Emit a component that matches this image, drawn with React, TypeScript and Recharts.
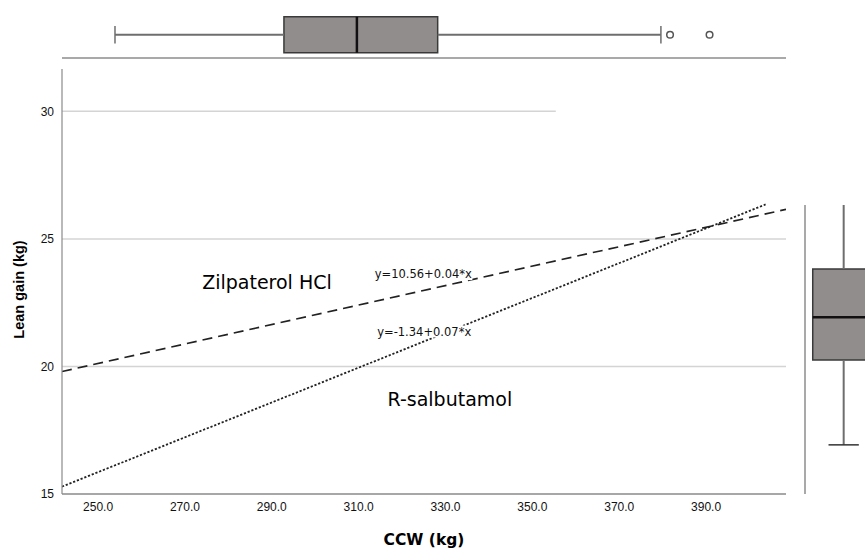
import React from 'react'
import {
    ComposedChart,
    Line,
    Scatter,
    XAxis,
    YAxis,
    ReferenceLine,
    ReferenceArea,
    ReferenceDot,
} from 'recharts'

// axes
const xTicks = [250, 270, 290, 310, 330, 350, 370, 390]
const yTicks = [15, 20, 25, 30]
const xDomain = [241.7, 408.4]
const yDomain = [15, 31.66]
const gridValues = [20, 25]
const shortGridValue = 30
const shortGridEnd = 355.4

// fit lines (end points)
const zilpaterolLine = [
    { x: 241.7, y: 19.8 },
    { x: 408.4, y: 26.16 },
]
const salbutamolLine = [
    { x: 241.7, y: 15.29 },
    { x: 403.7, y: 26.35 },
]

// boxplots: [min whisker, q1, median, q3, max whisker]
const ccwBox = [253.9, 292.8, 309.6, 328.2, 379.6]
const ccwOutliers = [381.7, 390.8]
const leanBox = [16.93, 20.26, 21.94, 23.84, 26.35]

// labels
const groupLabels = [
    { text: 'Zilpaterol HCl', x: 288.9, y: 23.29 },
    { text: 'R-salbutamol', x: 331.0, y: 18.71 },
]
const equationLabels = [
    { text: 'y=10.56+0.04*x', x: 324.9, y: 23.62 },
    { text: 'y=-1.34+0.07*x', x: 325.1, y: 21.37 },
]

const BOX_FILL = '#918d8c'
const BOX_EDGE = '#3a3a3a'
const WHISKER = '#6e6e6e'
const AXIS = '#8a8a8a'
const GRID = '#d4d4d4'

const PLOT_MARGIN = { top: 69, right: 79, bottom: 0, left: 0 }

const tickStyle = { fontSize: 12, fill: '#111', fontFamily: '"Liberation Sans", Arial, sans-serif' }

const YTitle = ({ viewBox }: any) => {
    const x = viewBox.x + 19
    const y = viewBox.y + viewBox.height / 2 + 8
    return (
        <text
            x={x}
            y={y}
            transform={`rotate(-90 ${x} ${y})`}
            textAnchor="middle"
            dominantBaseline="central"
            fontSize={14.5}
            fontWeight="bold"
            fontFamily='"Liberation Sans", Arial, sans-serif'
            fill="#000"
        >
            Lean gain (kg)
        </text>
    )
}

const XTitle = ({ viewBox }: any) => (
    <text
        x={viewBox.x + viewBox.width / 2}
        y={viewBox.y + viewBox.height - 4}
        textAnchor="middle"
        fontSize={15.5}
        fontWeight="bold"
        fontFamily='"DejaVu Sans", sans-serif'
        fill="#000"
    >
        CCW (kg)
    </text>
)

// equation text sits on a white box, like SPSS draws it
const EquationLabel = ({ viewBox, value }: any) => {
    const cx = viewBox.x + viewBox.width / 2
    const cy = viewBox.y + viewBox.height / 2
    const w = String(value).length * 7
    return (
        <g>
            <rect x={cx - w / 2} y={cy - 6} width={w} height={12} fill="#fff" />
            <text
                x={cx}
                y={cy}
                textAnchor="middle"
                dominantBaseline="central"
                fontSize={11.5}
                fontFamily='"DejaVu Sans", sans-serif'
                fill="#111"
            >
                {value}
            </text>
        </g>
    )
}

const Outlier = (props: any) => (
    <circle cx={props.cx} cy={props.cy} r={3.3} fill="#fff" stroke="#555" strokeWidth={1.5} />
)

const Nothing = () => <g />

function MainChart() {
    return (
        <ComposedChart width={865} height={549} margin={PLOT_MARGIN}>
            <XAxis
                type="number"
                dataKey="x"
                domain={xDomain}
                ticks={xTicks}
                allowDataOverflow
                tickFormatter={(v) => v.toFixed(1)}
                tick={tickStyle}
                tickLine={false}
                axisLine={{ stroke: AXIS, strokeWidth: 1.5 }}
                height={55}
                label={<XTitle />}
            />
            <YAxis
                type="number"
                domain={yDomain}
                ticks={yTicks}
                allowDataOverflow
                tick={tickStyle}
                tickLine={false}
                axisLine={{ stroke: AXIS, strokeWidth: 1.2 }}
                width={62}
                label={<YTitle />}
            />
            {gridValues.map((v) => (
                <ReferenceLine key={v} y={v} stroke={GRID} strokeWidth={1.5} />
            ))}
            <ReferenceLine
                segment={[
                    { x: xDomain[0], y: shortGridValue },
                    { x: shortGridEnd, y: shortGridValue },
                ]}
                stroke={GRID}
                strokeWidth={1.5}
            />
            <Line
                data={zilpaterolLine}
                dataKey="y"
                type="linear"
                stroke="#222"
                strokeWidth={1.6}
                strokeDasharray="10 6"
                dot={false}
                activeDot={false}
                isAnimationActive={false}
            />
            <Line
                data={salbutamolLine}
                dataKey="y"
                type="linear"
                stroke="#222"
                strokeWidth={1.8}
                strokeDasharray="2.2 1.8"
                dot={false}
                activeDot={false}
                isAnimationActive={false}
            />
            {groupLabels.map((l) => (
                <ReferenceDot
                    key={l.text}
                    x={l.x}
                    y={l.y}
                    r={1}
                    fill="none"
                    stroke="none"
                    label={{
                        value: l.text,
                        position: 'center',
                        fontSize: 19,
                        fill: '#000',
                        fontFamily: '"DejaVu Sans", sans-serif',
                    }}
                />
            ))}
        </ComposedChart>
    )
}

// same plot geometry as MainChart, drawn on top so the white boxes hide the lines
function EquationOverlay() {
    return (
        <ComposedChart
            width={865}
            height={549}
            margin={{ top: PLOT_MARGIN.top, right: PLOT_MARGIN.right, bottom: 55, left: 62 }}
        >
            <XAxis type="number" dataKey="x" domain={xDomain} allowDataOverflow hide />
            <YAxis type="number" dataKey="y" domain={yDomain} allowDataOverflow hide />
            <Scatter data={equationLabels} shape={<Nothing />} isAnimationActive={false} />
            {equationLabels.map((l) => (
                <ReferenceDot
                    key={l.text}
                    x={l.x}
                    y={l.y}
                    r={1}
                    fill="none"
                    stroke="none"
                    label={<EquationLabel value={l.text} />}
                />
            ))}
        </ComposedChart>
    )
}

function TopBox() {
    const [lo, q1, med, q3, hi] = ccwBox
    const cap = 0.48
    return (
        <ComposedChart width={865} height={60} margin={{ top: 0, right: 79, bottom: 0, left: 62 }}>
            <XAxis
                type="number"
                dataKey="x"
                domain={xDomain}
                allowDataOverflow
                tick={false}
                tickLine={false}
                axisLine={{ stroke: '#a9a9a9', strokeWidth: 2 }}
                height={2}
            />
            <YAxis type="number" dataKey="y" domain={[-1.29, 1.93]} hide />
            <ReferenceLine segment={[{ x: lo, y: 0 }, { x: q1, y: 0 }]} stroke={WHISKER} strokeWidth={2} />
            <ReferenceLine segment={[{ x: q3, y: 0 }, { x: hi, y: 0 }]} stroke={WHISKER} strokeWidth={2} />
            <ReferenceLine segment={[{ x: lo, y: -cap }, { x: lo, y: cap }]} stroke={WHISKER} strokeWidth={1.5} />
            <ReferenceLine segment={[{ x: hi, y: -cap }, { x: hi, y: cap }]} stroke={WHISKER} strokeWidth={1.5} />
            <ReferenceArea
                x1={q1}
                x2={q3}
                y1={-1}
                y2={1}
                fill={BOX_FILL}
                fillOpacity={1}
                stroke={BOX_EDGE}
                strokeWidth={1.5}
            />
            <ReferenceLine segment={[{ x: med, y: -1 }, { x: med, y: 1 }]} stroke="#111" strokeWidth={2.5} />
            <Scatter
                data={ccwOutliers.map((x) => ({ x, y: 0 }))}
                shape={<Outlier />}
                isAnimationActive={false}
            />
        </ComposedChart>
    )
}

function RightBox() {
    const [lo, q1, med, q3, hi] = leanBox
    const cap = 0.49
    const anchors = leanBox.map((y) => ({ x: 0, y }))
    return (
        <ComposedChart width={100} height={289} margin={{ top: 0, right: 0, bottom: 0, left: 0 }}>
            <XAxis type="number" dataKey="x" domain={[-1.25, 1.95]} allowDataOverflow hide />
            <YAxis
                type="number"
                dataKey="y"
                domain={[15, 26.35]}
                allowDataOverflow
                tick={false}
                tickLine={false}
                axisLine={{ stroke: '#a9a9a9', strokeWidth: 2 }}
                width={1}
            />
            <Scatter data={anchors} shape={<Nothing />} isAnimationActive={false} />
            <ReferenceLine segment={[{ x: 0, y: lo }, { x: 0, y: q1 }]} stroke={WHISKER} strokeWidth={2} />
            <ReferenceLine segment={[{ x: 0, y: q3 }, { x: 0, y: hi }]} stroke={WHISKER} strokeWidth={2} />
            <ReferenceLine segment={[{ x: -cap, y: lo }, { x: cap, y: lo }]} stroke="#333" strokeWidth={1.5} />
            <ReferenceArea
                x1={-1}
                x2={1}
                y1={q1}
                y2={q3}
                fill={BOX_FILL}
                fillOpacity={1}
                stroke={BOX_EDGE}
                strokeWidth={1.5}
            />
            <ReferenceLine segment={[{ x: -1, y: med }, { x: 1, y: med }]} stroke="#111" strokeWidth={2.5} />
        </ComposedChart>
    )
}

export default function App() {
    return (
        <div
            style={{
                position: 'fixed',
                left: 0,
                top: 0,
                width: 865,
                height: 549,
                overflow: 'hidden',
                background: '#fff',
                fontFamily: '"Liberation Sans", Arial, sans-serif',
            }}
        >
            <div style={{ position: 'absolute', left: 0, top: 0 }}>
                <MainChart />
            </div>
            <div style={{ position: 'absolute', left: 0, top: 0 }}>
                <EquationOverlay />
            </div>
            <div style={{ position: 'absolute', left: 0, top: 0 }}>
                <TopBox />
            </div>
            <div style={{ position: 'absolute', left: 804, top: 205 }}>
                <RightBox />
            </div>
        </div>
    )
}
